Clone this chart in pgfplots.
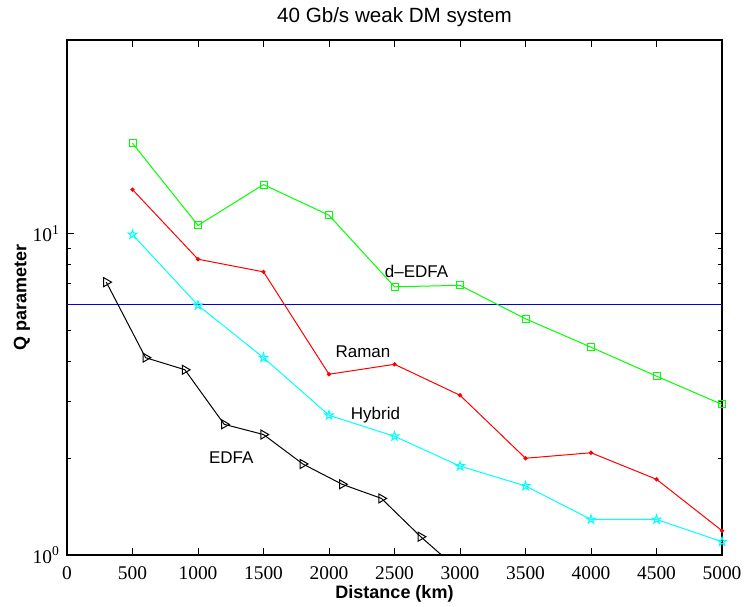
\documentclass[border=0pt]{standalone}
\usepackage{fontspec}
\setmainfont{Liberation Sans}
\newfontfamily\tickserif{Liberation Serif}
\usepackage{pgfplots}
\pgfplotsset{compat=1.18}
\usetikzlibrary{calc}

% MATLAB-like pentagram outline
\pgfdeclareplotmark{pentagram}{%
  \pgfpathmoveto{\pgfpointpolar{90}{\pgfplotmarksize}}%
  \pgfpathlineto{\pgfpointpolar{126}{0.382\pgfplotmarksize}}%
  \pgfpathlineto{\pgfpointpolar{162}{\pgfplotmarksize}}%
  \pgfpathlineto{\pgfpointpolar{198}{0.382\pgfplotmarksize}}%
  \pgfpathlineto{\pgfpointpolar{234}{\pgfplotmarksize}}%
  \pgfpathlineto{\pgfpointpolar{270}{0.382\pgfplotmarksize}}%
  \pgfpathlineto{\pgfpointpolar{306}{\pgfplotmarksize}}%
  \pgfpathlineto{\pgfpointpolar{342}{0.382\pgfplotmarksize}}%
  \pgfpathlineto{\pgfpointpolar{18}{\pgfplotmarksize}}%
  \pgfpathlineto{\pgfpointpolar{54}{0.382\pgfplotmarksize}}%
  \pgfpathclose\pgfusepathqstroke}

\definecolor{mgreen}{rgb}{0,1,0}
\definecolor{mred}{rgb}{1,0,0}
\definecolor{mcyan}{rgb}{0,1,1}
\definecolor{mblue}{rgb}{0,0,0.85}

\begin{document}
\begin{tikzpicture}
\begin{axis}[
    name=ax,
    scale only axis,
    width=327.5pt, height=257.5pt,
    xmin=0, xmax=5000,
    ymode=log, ymin=1, ymax=40,
    xtick={0,500,1000,1500,2000,2500,3000,3500,4000,4500,5000},
    xticklabels={0,500,1000,1500,2000,2500,3000,3500,4000,4500,5000},
    ytick={1,10},
    yticklabels={10\textsuperscript{0},10\textsuperscript{1}},
    tick align=inside, tick pos=both,
    major tick length=3.5pt, minor tick length=2pt,
    every tick/.style={black, line width=0.5pt},
    axis line style={line width=0.6pt},
    tick label style={font=\tickserif\fontsize{9.7}{11}\selectfont},
    xticklabel style={yshift=-2.3pt},
    xlabel={Distance (km)},
    ylabel={Q parameter},
    xlabel style={font=\bfseries\fontsize{9}{11}\selectfont,
        at={(axis description cs:0.5,-0.0757)}, anchor=center},
    ylabel style={font=\bfseries\fontsize{9}{11}\selectfont,
        at={(axis description cs:-0.0687,0.5)}, anchor=center},
]
% Q = 6 threshold
\addplot[mblue, line width=0.5pt] coordinates {(0,6)(5000,6)};
% d-EDFA
\addplot[mgreen, line width=0.5pt, mark=square, mark size=1.75pt] coordinates {
(500,19.1)(1000,10.6)(1500,14.2)(2000,11.4)(2500,6.83)
(3000,6.9)(3500,5.43)(4000,4.43)(4500,3.60)(5000,2.94)
};
% Raman
\addplot[mred, line width=0.5pt, mark=*, mark size=0.8pt] coordinates {
(500,13.7)(1000,8.32)(1500,7.60)(2000,3.65)(2500,3.92)
(3000,3.14)(3500,2.00)(4000,2.08)(4500,1.72)(5000,1.19)
};
% Hybrid
\addplot[mcyan, line width=0.5pt, mark=pentagram, mark size=2.3pt] coordinates {
(500,9.93)(1000,5.98)(1500,4.11)(2000,2.72)(2500,2.34)
(3000,1.89)(3500,1.64)(4000,1.29)(4500,1.29)(5000,1.10)
};
% EDFA
\addplot[black, line width=0.5pt, mark=triangle, mark size=2.6pt,
    mark options={rotate=-90}] coordinates {
(300,7.06)(600,4.11)(900,3.77)(1200,2.55)(1500,2.37)
(1800,1.92)(2100,1.66)(2400,1.50)(2700,1.14)(3000,0.89)
};
\node[font=\fontsize{8.5}{10}\selectfont, anchor=base] at (axis cs:2668,7.28) {d--EDFA};
\node[font=\fontsize{8.5}{10}\selectfont, anchor=base] at (axis cs:2259,4.11) {Raman};
\node[font=\fontsize{8.5}{10}\selectfont, anchor=base] at (axis cs:2355,2.64) {Hybrid};
\node[font=\fontsize{8.5}{10}\selectfont, anchor=base] at (axis cs:1254,1.93) {EDFA};
\end{axis}
\node[font=\fontsize{10.3}{12}\selectfont] at ($(ax.north)+(0,11.5pt)$) {40 Gb/s weak DM system};
\pgfresetboundingbox
\path ($(ax.south west)+(-33.5pt,-25.5pt)$) rectangle ($(ax.north east)+(13pt,20pt)$);
\end{tikzpicture}
\end{document}
